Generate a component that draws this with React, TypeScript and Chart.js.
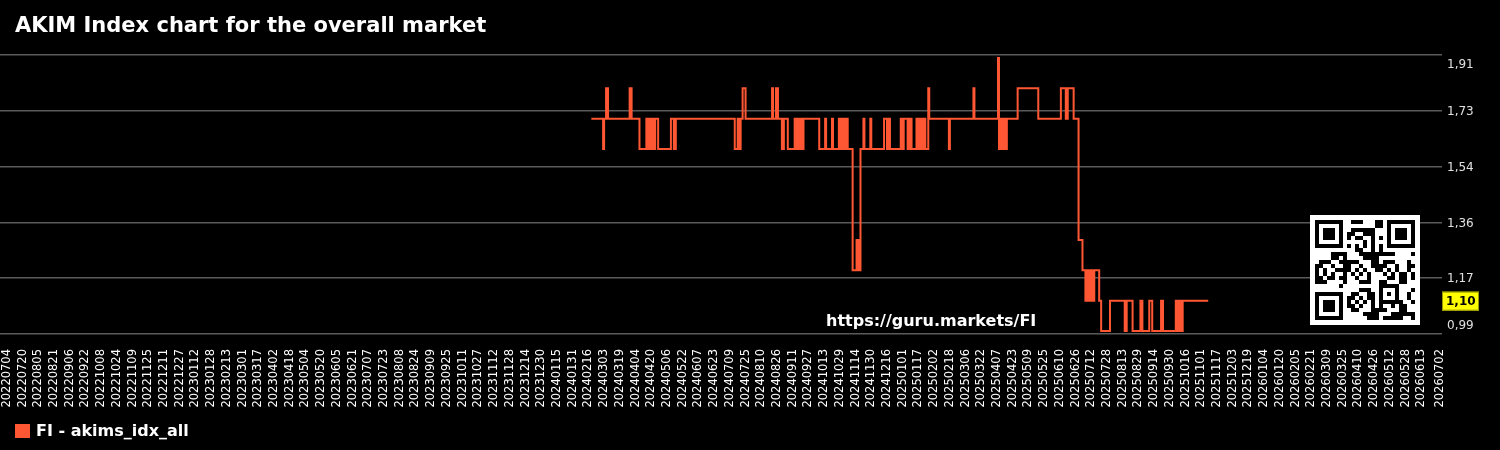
import React, { useEffect, useRef } from 'react';
import { Chart, registerables } from 'chart.js';

Chart.register(...registerables);

const TITLE = 'AKIM Index chart for the overall market';
const SERIES_LABEL = 'FI - akims_idx_all';
const WATERMARK = 'https://guru.markets/FI';
const SERIES_COLOR = '#ff5733';
const FONT = '"DejaVu Sans", Verdana, sans-serif';

// x-axis tick labels (calendar dates)
const tickLabels = [
  '20220704', '20220720', '20220805', '20220821', '20220906', '20220922', '20221008', '20221024',
  '20221109', '20221125', '20221211', '20221227', '20230112', '20230128', '20230213', '20230301',
  '20230317', '20230402', '20230418', '20230504', '20230520', '20230605', '20230621', '20230707',
  '20230723', '20230808', '20230824', '20230909', '20230925', '20231011', '20231027', '20231112',
  '20231128', '20231214', '20231230', '20240115', '20240131', '20240216', '20240303', '20240319',
  '20240404', '20240420', '20240506', '20240522', '20240607', '20240623', '20240709', '20240725',
  '20240810', '20240826', '20240911', '20240927', '20241013', '20241029', '20241114', '20241130',
  '20241216', '20250101', '20250117', '20250202', '20250218', '20250306', '20250322', '20250407',
  '20250423', '20250509', '20250525', '20250610', '20250626', '20250712', '20250728', '20250813',
  '20250829', '20250914', '20250930', '20251016', '20251101', '20251117', '20251203', '20251219',
  '20260104', '20260120', '20260205', '20260221', '20260309', '20260325', '20260410', '20260426',
  '20260512', '20260528', '20260613', '20260702',
];

// Index series: each date starts a new level that holds until the next date
const changeDates = [
  '20240219', '20240302', '20240303', '20240305', '20240307', '20240329', '20240331', '20240408',
  '20240415', '20240417', '20240418', '20240419', '20240420', '20240421', '20240422', '20240423',
  '20240424', '20240427', '20240510', '20240513', '20240515', '20240714', '20240717', '20240718',
  '20240720', '20240722', '20240725', '20240821', '20240822', '20240825', '20240827', '20240831',
  '20240902', '20240906', '20240913', '20240915', '20240916', '20240918', '20240919', '20240920',
  '20240922', '20241008', '20241014', '20241015', '20241021', '20241022', '20241028', '20241029',
  '20241030', '20241101', '20241102', '20241103', '20241105', '20241106', '20241111', '20241115',
  '20241116', '20241117', '20241118', '20241119', '20241122', '20241123', '20241129', '20241130',
  '20241213', '20241216', '20241217', '20241219', '20241230', '20250101', '20250102', '20250106',
  '20250108', '20250110', '20250115', '20250117', '20250118', '20250119', '20250121', '20250122',
  '20250123', '20250124', '20250127', '20250128', '20250217', '20250218', '20250314', '20250315',
  '20250408', '20250409', '20250411', '20250412', '20250414', '20250415', '20250417', '20250428',
  '20250519', '20250611', '20250616', '20250618', '20250624', '20250629', '20250703', '20250706',
  '20250708', '20250710', '20250711', '20250713', '20250715', '20250720', '20250722', '20250731',
  '20250815', '20250817', '20250823', '20250831', '20250902', '20250909', '20250912', '20250921',
  '20250923', '20251006', '20251008', '20251009', '20251011', '20251013',
];
const changeValues = [
  1.70, 1.60, 1.70, 1.80, 1.70, 1.80, 1.70, 1.60,
  1.70, 1.60, 1.70, 1.60, 1.70, 1.60, 1.70, 1.60,
  1.70, 1.60, 1.70, 1.60, 1.70, 1.60, 1.70, 1.60,
  1.70, 1.80, 1.70, 1.80, 1.70, 1.80, 1.70, 1.60,
  1.70, 1.60, 1.70, 1.60, 1.70, 1.60, 1.70, 1.60,
  1.70, 1.60, 1.70, 1.60, 1.70, 1.60, 1.70, 1.60,
  1.70, 1.60, 1.70, 1.60, 1.70, 1.60, 1.20, 1.30,
  1.20, 1.30, 1.20, 1.60, 1.70, 1.60, 1.70, 1.60,
  1.70, 1.60, 1.70, 1.60, 1.70, 1.60, 1.70, 1.60,
  1.70, 1.60, 1.70, 1.60, 1.70, 1.60, 1.70, 1.60,
  1.70, 1.60, 1.80, 1.70, 1.60, 1.70, 1.80, 1.70,
  1.90, 1.60, 1.70, 1.60, 1.70, 1.60, 1.70, 1.80,
  1.70, 1.80, 1.70, 1.80, 1.70, 1.30, 1.20, 1.10,
  1.20, 1.10, 1.20, 1.10, 1.20, 1.10, 1.00, 1.10,
  1.00, 1.10, 1.00, 1.10, 1.00, 1.10, 1.00, 1.10,
  1.00, 1.10, 1.00, 1.10, 1.00, 1.10,
];
const seriesEndDate = '20251108';

// y-axis range and ticks
const yMin = 0.99;
const yMax = 1.91;
const yTickValues = [0.99, 1.174, 1.358, 1.542, 1.726, 1.91];

// x-axis range in days relative to the first tick label
const xMinDays = -7;
const xMaxDays = 1461;

const DAY_MS = 86400000;
function parseDay(s: string): number {
  const t = Date.UTC(+s.slice(0, 4), +s.slice(4, 6) - 1, +s.slice(6, 8));
  const o = Date.UTC(+tickLabels[0].slice(0, 4), +tickLabels[0].slice(4, 6) - 1, +tickLabels[0].slice(6, 8));
  return Math.round((t - o) / DAY_MS);
}

function fmt(v: number): string {
  return v.toFixed(2).replace('.', ',');
}

function qrCell(r: number, c: number): boolean {
  const finders = [[0, 0], [0, 18], [18, 0]];
  for (const [r0, c0] of finders) {
    if (r >= r0 && r < r0 + 7 && c >= c0 && c < c0 + 7) {
      const rr = r - r0, cc = c - c0;
      return rr === 0 || rr === 6 || cc === 0 || cc === 6 || (rr >= 2 && rr <= 4 && cc >= 2 && cc <= 4);
    }
  }
  if ((r < 8 && c < 8) || (r < 8 && c >= 17) || (r >= 17 && c < 8)) return false;
  if (r >= 16 && r <= 20 && c >= 16 && c <= 20) {
    const rr = r - 16, cc = c - 16;
    return rr === 0 || rr === 4 || cc === 0 || cc === 4 || (rr === 2 && cc === 2);
  }
  if (r === 6) return c % 2 === 0;
  if (c === 6) return r % 2 === 0;
  return ((r * 31 + c * 17 + r * c * 7 + (r ^ c) * 3) % 11) < 5;
}

const overlayPlugin = {
  id: 'overlay',
  afterDraw(chart: any) {
    const ctx: CanvasRenderingContext2D = chart.ctx;
    const area = chart.chartArea;
    const ys = chart.scales.y;
    ctx.save();
    // title
    ctx.fillStyle = '#ffffff';
    ctx.font = `bold 21px ${FONT}`;
    ctx.textAlign = 'left';
    ctx.textBaseline = 'alphabetic';
    ctx.fillText(TITLE, 15, 32);

    // y labels (kept inside plot area)
    ctx.font = `12px ${FONT}`;
    ctx.fillStyle = '#e0e0e0';
    ctx.textBaseline = 'middle';
    for (const v of yTickValues) {
      let py = ys.getPixelForValue(v);
      py = Math.min(Math.max(py, area.top + 9), area.bottom - 9);
      ctx.fillText(fmt(v), area.right + 5, py + 1);
    }

    // last value marker
    const last = changeValues[changeValues.length - 1];
    const ly = ys.getPixelForValue(last);
    ctx.fillStyle = '#ffff00';
    ctx.fillRect(area.right, ly - 9, 37, 19);
    ctx.strokeStyle = '#9a9a00';
    ctx.lineWidth = 1;
    ctx.strokeRect(area.right + 0.5, ly - 8.5, 36, 18);
    ctx.fillStyle = '#000000';
    ctx.font = `bold 12px ${FONT}`;
    ctx.fillText(fmt(last), area.right + 4, ly + 1);

    // watermark
    ctx.fillStyle = '#ffffff';
    ctx.font = `bold 16px ${FONT}`;
    ctx.textBaseline = 'alphabetic';
    ctx.fillText(WATERMARK, 826, 326);

    // QR code
    const qx = 1310, qy = 215, qs = 110, n = 25, m = 4;
    ctx.fillStyle = '#ffffff';
    ctx.fillRect(qx, qy, qs, qs);
    ctx.fillStyle = '#000000';
    const off = (qs - n * m) / 2;
    for (let r = 0; r < n; r++) {
      for (let c = 0; c < n; c++) {
        if (qrCell(r, c)) ctx.fillRect(qx + off + c * m, qy + off + r * m, m, m);
      }
    }

    // legend
    ctx.fillStyle = SERIES_COLOR;
    ctx.fillRect(15, 424, 15, 14);
    ctx.fillStyle = '#ffffff';
    ctx.font = `bold 16px ${FONT}`;
    ctx.fillText(SERIES_LABEL, 36, 436);
    ctx.restore();
  },
};

export default function App() {
  const ref = useRef<HTMLCanvasElement>(null);

  useEffect(() => {
    document.body.style.margin = '0';
    document.body.style.background = '#000';
    const points = changeDates.map((d, i) => ({ x: parseDay(d), y: changeValues[i] }));
    points.push({ x: parseDay(seriesEndDate), y: changeValues[changeValues.length - 1] });
    const tickDays = tickLabels.map(parseDay);

    const chart = new Chart(ref.current as HTMLCanvasElement, {
      type: 'line',
      data: {
        datasets: [
          {
            label: SERIES_LABEL,
            data: points,
            borderColor: SERIES_COLOR,
            backgroundColor: SERIES_COLOR,
            borderWidth: 2,
            pointRadius: 0,
            stepped: true,
            fill: false,
          },
        ],
      },
      options: {
        responsive: false,
        animation: false,
        layout: { padding: { top: 55, left: 0, right: 0, bottom: 0 } },
        plugins: {
          legend: { display: false },
          title: { display: false },
          tooltip: { enabled: false },
        },
        scales: {
          x: {
            type: 'linear',
            min: xMinDays,
            max: xMaxDays,
            afterBuildTicks: (s: any) => {
              s.ticks = tickDays.map((v) => ({ value: v }));
            },
            afterFit: (s: any) => {
              s.height = 116;
              s.paddingLeft = 0;
              s.paddingRight = 0;
            },
            ticks: {
              autoSkip: false,
              minRotation: 90,
              maxRotation: 90,
              color: '#ffffff',
              padding: 15,
              font: { family: FONT, size: 11.5 },
              callback: (_v: any, i: number) => tickLabels[i],
            },
            grid: { display: false, drawTicks: false },
            border: { display: false },
          },
          y: {
            position: 'right',
            min: yMin,
            max: yMax,
            afterBuildTicks: (s: any) => {
              s.ticks = yTickValues.map((v) => ({ value: v }));
            },
            afterFit: (s: any) => {
              s.width = 58;
              s.paddingTop = 0;
              s.paddingBottom = 0;
            },
            ticks: { display: false },
            grid: { color: '#5a5a5a', lineWidth: 1.5, drawTicks: false },
            border: { display: false },
          },
        },
      },
      plugins: [overlayPlugin],
    } as any);
    return () => chart.destroy();
  }, []);

  return (
    <div style={{ position: 'fixed', left: 0, top: 0, width: 1500, height: 450, background: '#000' }}>
      <canvas ref={ref} width={1500} height={450} style={{ display: 'block' }} />
    </div>
  );
}
